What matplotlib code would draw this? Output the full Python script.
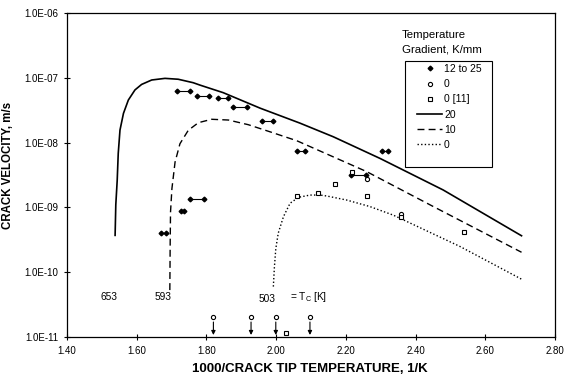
import matplotlib
matplotlib.use("Agg")
import matplotlib.pyplot as plt
from matplotlib.patches import Rectangle
from matplotlib.ticker import NullLocator, FixedLocator, FuncFormatter
import numpy as np

plt.rcParams['font.family'] = ['Liberation Sans', 'DejaVu Sans']

# model curves
solid_x = [1.538, 1.540, 1.544, 1.547, 1.552, 1.562, 1.576, 1.595, 1.614, 1.643, 1.681,
           1.719, 1.762, 1.782, 1.848, 1.954, 2.068, 2.164, 2.298, 2.479, 2.704]
solid_v = [3.7e-10, 1.1e-9, 2.6e-9, 6.8e-9, 1.56e-8, 2.83e-8, 4.54e-8, 6.5e-8, 7.9e-8,
           9.25e-8, 9.8e-8, 9.5e-8, 8.4e-8, 7.7e-8, 5.9e-8, 3.4e-8, 2.0e-8, 1.23e-8,
           5.7e-9, 1.86e-9, 3.65e-10]

dash_x = [1.695, 1.696, 1.697, 1.701, 1.710, 1.724, 1.748, 1.777, 1.815, 1.863, 1.920,
          1.982, 2.059, 2.260, 2.451, 2.704]
dash_v = [5.3e-11, 2.8e-10, 8.5e-10, 1.95e-9, 5.0e-9, 9.6e-9, 1.55e-8, 2.03e-8, 2.29e-8,
          2.23e-8, 1.89e-8, 1.47e-8, 1.07e-8, 3.56e-9, 1.03e-9, 2.03e-10]

dot_x = [1.992, 1.995, 1.999, 2.006, 2.021, 2.040, 2.064, 2.097, 2.126, 2.145, 2.202,
         2.269, 2.336, 2.527, 2.704]
dot_v = [6.0e-11, 1.2e-10, 2.3e-10, 4.0e-10, 7.2e-10, 1.16e-9, 1.43e-9, 1.55e-9, 1.55e-9,
         1.5e-9, 1.3e-9, 1.03e-9, 7.6e-10, 2.5e-10, 7.8e-11]

# measured points 12 to 25 K/mm (pairs joined by a bar)
pair_x1 = [1.670, 1.728, 1.753, 1.715, 1.772, 1.834, 1.877, 1.958, 2.059, 2.215, 2.303]
pair_x2 = [1.683, 1.735, 1.794, 1.753, 1.808, 1.863, 1.915, 1.990, 2.083, 2.257, 2.322]
pair_v = [4.0e-10, 8.8e-10, 1.35e-9, 6.3e-8, 5.2e-8, 4.9e-8, 3.5e-8, 2.15e-8, 7.5e-9,
          3.2e-9, 7.4e-9]

# 0 K/mm
circ_x = [2.260, 2.358]
circ_v = [2.7e-9, 7.9e-10]
# upper bounds (arrows)
bound_x = [1.820, 1.928, 1.999, 2.097]
bound_v = [2.0e-11, 2.0e-11, 2.0e-11, 2.0e-11]

# 0 K/mm [11]
sq_x = [2.028, 2.061, 2.121, 2.170, 2.218, 2.260, 2.358, 2.539]
sq_v = [1.17e-11, 1.52e-9, 1.65e-9, 2.3e-9, 3.56e-9, 1.5e-9, 7.0e-10, 4.2e-10]

tc_labels = ['653', '593', '503']
tc_x = [1.521, 1.676, 1.973]
tc_v = [4.1e-11, 4.1e-11, 3.8e-11]

fig = plt.figure(figsize=(5.64, 3.78), dpi=100)
ax = fig.add_axes([67 / 564, 1 - 337 / 378, 488 / 564, 324 / 378])

ax.plot(solid_x, solid_v, color='black', lw=1.2, label='20')
ax.plot(dash_x, dash_v, color='black', lw=1.0, dashes=(5, 3), label='10')
ax.plot(dot_x, dot_v, color='black', lw=1.0, dashes=(1, 1.6), label='0')

for a, b, v in zip(pair_x1, pair_x2, pair_v):
    ax.plot([a, b], [v, v], color='black', lw=0.8)
ax.plot(pair_x1 + pair_x2, pair_v + pair_v, 'D', color='black', ms=2.4, ls='none',
        label='12 to 25')
ax.plot(circ_x + bound_x, circ_v + bound_v, 'o', mfc='white', mec='black', mew=0.8,
        ms=3, ls='none', label='0 ')
ax.plot(sq_x, sq_v, 's', mfc='white', mec='black', mew=0.8, ms=3.3, ls='none',
        label='0 [11]')

for x, v in zip(bound_x, bound_v):
    ax.annotate('', xy=(x, v * 10 ** -0.27), xytext=(x, v * 10 ** -0.07),
                arrowprops=dict(arrowstyle='-|>', color='black', lw=0.8,
                                mutation_scale=6, shrinkA=0, shrinkB=0))

for t, x, v in zip(tc_labels, tc_x, tc_v):
    ax.text(x, v, t, fontsize=7.3, ha='center', va='center')
ax.text(2.04, 4.1e-11, r'= T$_\mathregular{C}$ [K]', fontsize=7.3, ha='left', va='center')

ax.set_yscale('log')
ax.set_xlim(1.4, 2.8)
ax.set_ylim(1e-11, 1e-6)
ax.xaxis.set_major_locator(FixedLocator(np.arange(1.4, 2.81, 0.2)))
ax.xaxis.set_major_formatter(FuncFormatter(lambda v, p: '%.2f' % v))
ax.yaxis.set_major_locator(FixedLocator([1e-11, 1e-10, 1e-9, 1e-8, 1e-7, 1e-6]))
ax.yaxis.set_minor_locator(NullLocator())
ax.yaxis.set_major_formatter(FuncFormatter(lambda v, p: '1.0E-%02d' % round(-np.log10(v))))
ax.tick_params(direction='inout', length=5, width=0.8, labelsize=7, pad=4)
for s in ax.spines.values():
    s.set_linewidth(0.9)

ax.set_xlabel('1000/CRACK TIP TEMPERATURE, 1/K', fontsize=9.5, fontweight='bold')
ax.set_ylabel('CRACK VELOCITY, m/s', fontsize=8.3, fontweight='bold')
ax.xaxis.set_label_coords(0.498, -0.080)
ax.yaxis.set_label_coords(-0.109, 0.528)

# legend
h, l = ax.get_legend_handles_labels()
order = [3, 4, 5, 0, 1, 2]
leg = fig.legend([h[i] for i in order], ['12 to 25', '0', '0 [11]', '20', '10', '0'],
                 loc='upper left', bbox_to_anchor=(417 / 564, 1 - 64 / 378),
                 bbox_transform=fig.transFigure, frameon=False, fontsize=7.5,
                 handlelength=2.4, handletextpad=0.2, borderpad=0, borderaxespad=0,
                 labelspacing=0.5)
fig.patches.append(Rectangle((405 / 564, 1 - 167 / 378), 87 / 564, 106 / 378,
                             transform=fig.transFigure, fill=False, lw=0.8,
                             ec='black'))
fig.text(402 / 564, 1 - 42 / 378, 'Temperature\nGradient, K/mm', fontsize=8.2,
         ha='left', va='center', linespacing=1.5)

fig.savefig('out.png', dpi=100)
